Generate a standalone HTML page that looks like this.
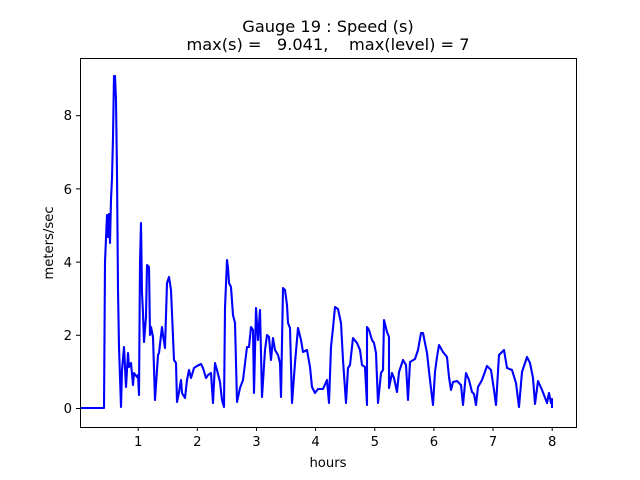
<!DOCTYPE html>
<html><head><meta charset="utf-8"><style>body{margin:0;background:#fff}svg{display:block}</style></head><body>
<svg width="640" height="480" xmlns="http://www.w3.org/2000/svg" font-family="DejaVu Sans, Liberation Sans, sans-serif">
<rect width="640" height="480" fill="#fff"/>
<text x="328" y="32" font-size="16.2" text-anchor="middle">Gauge 19 : Speed (s)</text>
<text x="328" y="50" font-size="16.2" text-anchor="middle" xml:space="preserve">max(s) =   9.041,    max(level) = 7</text>
<polyline fill="none" stroke="#0000ff" stroke-width="2.1" stroke-linejoin="round" points="81,408 104,408 105,262 107,215 108,237 109,214 110,243 111,200 112,178 113,137 114,76 115,76 116,100 117,173 118,290 119,347 121,407 122,370 124,347 126,387 128,353 129,367 131,363 133,385 134,373 137,377 138,375 139,395 140,263 141,223 142,293 143,313 144,342 146,317 147,265 149,267 150,335 151,327 153,337 155,400 158,355 159,353 162,327 163,335 165,348 167,283 169,277 171,290 174,360 176,363 177,402 179,392 181,380 182,393 185,398 187,380 189,370 191,378 194,368 197,366 201,364 203,368 206,378 208,375 211,373 213,403 215,363 217,370 220,382 222,400 224,407 225,308 227,260 228,268 229,283 231,287 233,315 235,323 237,402 240,388 243,380 247,347 249,347 251,327 253,330 254,393 256,308 258,340 260,310 262,397 265,350 267,335 269,337 271,360 273,338 275,350 278,355 280,363 281,397 283,288 285,290 287,305 288,323 290,328 292,403 295,363 298,328 301,340 303,352 307,350 310,367 312,387 315,393 318,389 323,389 327,380 329,403 331,347 333,328 335,307 338,309 341,323 343,360 346,403 348,368 350,365 353,338 357,343 360,350 362,365 365,367 367,405 367,327 369,330 372,340 374,343 376,353 378,403 381,373 383,370 384,320 387,332 389,337 389,388 392,373 394,378 397,392 399,372 403,360 406,365 408,400 410,362 415,359 418,350 421,333 423,333 427,353 430,380 433,405 435,372 437,357 439,345 443,352 447,357 449,377 451,390 453,382 457,381 461,385 463,405 466,373 469,380 472,392 474,394 476,405 478,387 482,380 487,366 491,370 494,390 496,405 499,355 501,353 504,350 507,368 512,370 516,383 519,407 522,372 527,357 530,363 533,378 535,404 538,381 542,390 544,395 547,403 549,393 551,403 552,399 552,408"/>
<rect x="80.5" y="58.5" width="496" height="369" fill="none" stroke="#000" stroke-width="1"/>
<g stroke="#000" stroke-width="1">
<line x1="138.2" y1="427" x2="138.2" y2="431"/><line x1="197.3" y1="427" x2="197.3" y2="431"/><line x1="256.5" y1="427" x2="256.5" y2="431"/><line x1="315.6" y1="427" x2="315.6" y2="431"/><line x1="374.8" y1="427" x2="374.8" y2="431"/><line x1="433.9" y1="427" x2="433.9" y2="431"/><line x1="493.0" y1="427" x2="493.0" y2="431"/><line x1="552.2" y1="427" x2="552.2" y2="431"/>
<line x1="76" y1="408.5" x2="80" y2="408.5"/><line x1="76" y1="335.3" x2="80" y2="335.3"/><line x1="76" y1="262.1" x2="80" y2="262.1"/><line x1="76" y1="188.9" x2="80" y2="188.9"/><line x1="76" y1="115.7" x2="80" y2="115.7"/>
</g>
<g font-size="13.2" text-anchor="middle">
<text x="138.2" y="446">1</text><text x="197.3" y="446">2</text><text x="256.5" y="446">3</text><text x="315.6" y="446">4</text><text x="374.8" y="446">5</text><text x="433.9" y="446">6</text><text x="493.0" y="446">7</text><text x="552.2" y="446">8</text>
</g>
<g font-size="13.2" text-anchor="end">
<text x="72" y="413">0</text><text x="72" y="340">2</text><text x="72" y="267">4</text><text x="72" y="194">6</text><text x="72" y="120">8</text>
</g>
<text x="328" y="467" font-size="13.2" text-anchor="middle">hours</text>
<text transform="translate(53,243) rotate(-90)" font-size="13.2" text-anchor="middle">meters/sec</text>
</svg>
</body></html>
